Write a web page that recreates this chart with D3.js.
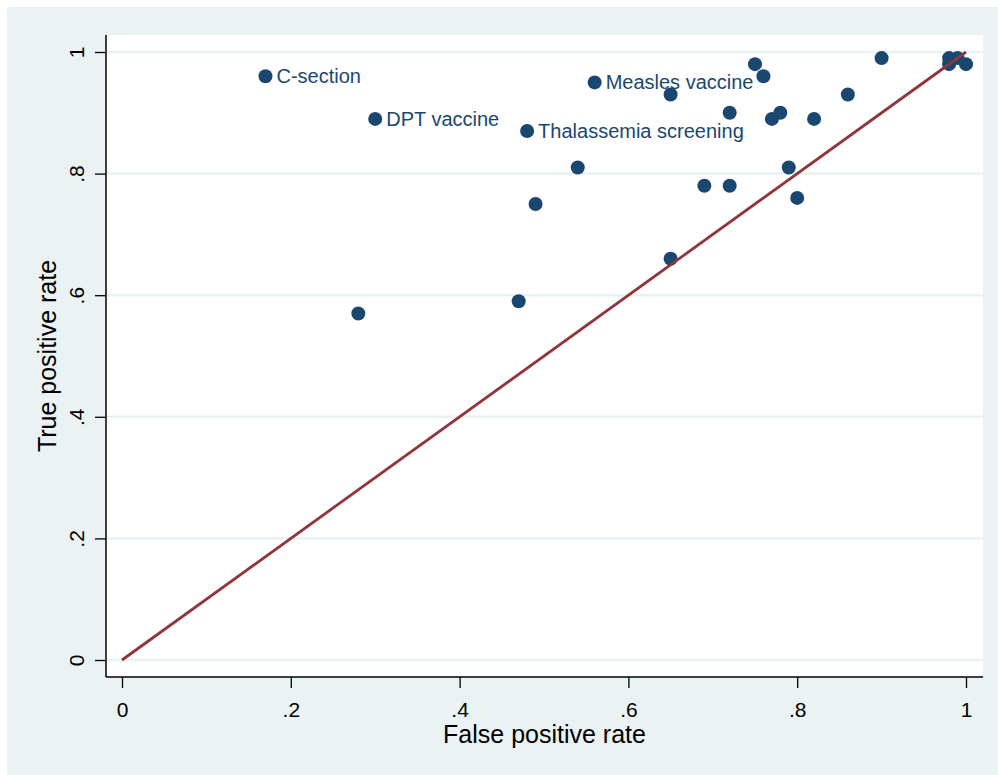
<!DOCTYPE html>
<html>
<head>
<meta charset="utf-8">
<script src="https://cdn.jsdelivr.net/npm/d3@7/dist/d3.min.js"></script>
<style>
  html, body { margin: 0; padding: 0; background: #ffffff; }
  svg { display: block; }
  text { font-family: "Liberation Sans", Arial, sans-serif; }
</style>
</head>
<body>
<svg id="chart" width="998" height="775"></svg>
<script>
// Data
const fpr = [0.17, 0.30, 0.48, 0.56, 0.28, 0.47, 0.49, 0.54, 0.65, 0.65, 0.69, 0.72, 0.72, 0.75, 0.76, 0.77, 0.78, 0.79, 0.80, 0.82, 0.86, 0.90, 0.98, 0.99, 0.98, 1.00];
const tpr = [0.96, 0.89, 0.87, 0.95, 0.57, 0.59, 0.75, 0.81, 0.93, 0.66, 0.78, 0.78, 0.90, 0.98, 0.96, 0.89, 0.90, 0.81, 0.76, 0.89, 0.93, 0.99, 0.99, 0.99, 0.98, 0.98];
const pointLabels = ["C-section", "DPT vaccine", "Thalassemia screening", "Measles vaccine", "", "", "", "", "", "", "", "", "", "", "", "", "", "", "", "", "", "", "", "", "", ""];
const xTicks = [0, 0.2, 0.4, 0.6, 0.8, 1];
const yTicks = [0, 0.2, 0.4, 0.6, 0.8, 1];
const xTitle = "False positive rate";
const yTitle = "True positive rate";

const svg = d3.select("#chart");
const W = 998, H = 775;
const plot = { left: 106, right: 983, top: 35, bottom: 677 };

const x = d3.scaleLinear().domain([0, 1]).range([122, 966]);
const y = d3.scaleLinear().domain([0, 1]).range([660, 52]);

const fmt = v => v === 0 ? "0" : v === 1 ? "1" : d3.format(".1f")(v).replace(/^0/, "");

// outer background
svg.append("rect").attr("x", 7).attr("y", 7).attr("width", W - 7).attr("height", H - 7).attr("fill", "#eaf2f3");
// plot region
svg.append("rect").attr("x", plot.left).attr("y", plot.top)
  .attr("width", plot.right - plot.left).attr("height", plot.bottom - plot.top).attr("fill", "#ffffff");

// gridlines
svg.append("g").selectAll("line").data(yTicks).join("line")
  .attr("x1", plot.left).attr("x2", plot.right)
  .attr("y1", d => y(d)).attr("y2", d => y(d))
  .attr("stroke", "#eaf2f3").attr("stroke-width", 2.5);

// Y axis
const yAxis = d3.axisLeft(y).tickValues(yTicks).tickFormat(fmt).tickSize(11).tickSizeOuter(0);
const gy = svg.append("g").attr("transform", `translate(${plot.left},0)`).call(yAxis);
gy.select(".domain").remove();
gy.selectAll(".tick line").attr("stroke", "#000").attr("stroke-width", 1.3);
gy.selectAll(".tick text").remove();
gy.selectAll(".tick").append("text")
  .attr("transform", "translate(-22,0) rotate(-90)")
  .attr("text-anchor", "middle")
  .attr("fill", "#000")
  .style("font-size", "21px")
  .text(d => fmt(d));
svg.append("line").attr("x1", plot.left).attr("x2", plot.left).attr("y1", plot.top).attr("y2", plot.bottom)
  .attr("stroke", "#000").attr("stroke-width", 1.5);

// X axis
const xAxis = d3.axisBottom(x).tickValues(xTicks).tickFormat(fmt).tickSize(11).tickSizeOuter(0);
const gx = svg.append("g").attr("transform", `translate(0,${plot.bottom})`).call(xAxis);
gx.select(".domain").remove();
gx.selectAll(".tick line").attr("stroke", "#000").attr("stroke-width", 1.3);
gx.selectAll(".tick text").remove();
gx.selectAll(".tick").append("text")
  .attr("y", 40)
  .attr("text-anchor", "middle")
  .attr("fill", "#000")
  .style("font-size", "21px")
  .text(d => fmt(d));
svg.append("line").attr("x1", plot.left).attr("x2", plot.right).attr("y1", plot.bottom).attr("y2", plot.bottom)
  .attr("stroke", "#000").attr("stroke-width", 1.5);

// axis titles
svg.append("text").attr("x", (plot.left + plot.right) / 2).attr("y", 743)
  .attr("text-anchor", "middle").attr("fill", "#000").style("font-size", "25px").text(xTitle);
svg.append("text").attr("transform", `translate(56,${(plot.top + plot.bottom) / 2}) rotate(-90)`)
  .attr("text-anchor", "middle").attr("fill", "#000").style("font-size", "25px").text(yTitle);

// points
const pts = fpr.map((v, i) => ({ x: v, y: tpr[i], label: pointLabels[i] }));
svg.append("g").selectAll("circle").data(pts).join("circle")
  .attr("cx", d => x(d.x)).attr("cy", d => y(d.y)).attr("r", 7)
  .attr("fill", "#1a476f");

// labels
svg.append("g").selectAll("text").data(pts.filter(d => d.label)).join("text")
  .attr("x", d => x(d.x) + 11).attr("y", d => y(d.y))
  .attr("dy", "0.35em")
  .attr("fill", "#1a476f").style("font-size", "20px")
  .text(d => d.label);

// diagonal reference line
svg.append("line")
  .attr("x1", x(0)).attr("y1", y(0)).attr("x2", x(1)).attr("y2", y(1))
  .attr("stroke", "#90353b").attr("stroke-width", 2.8);
</script>
</body>
</html>
